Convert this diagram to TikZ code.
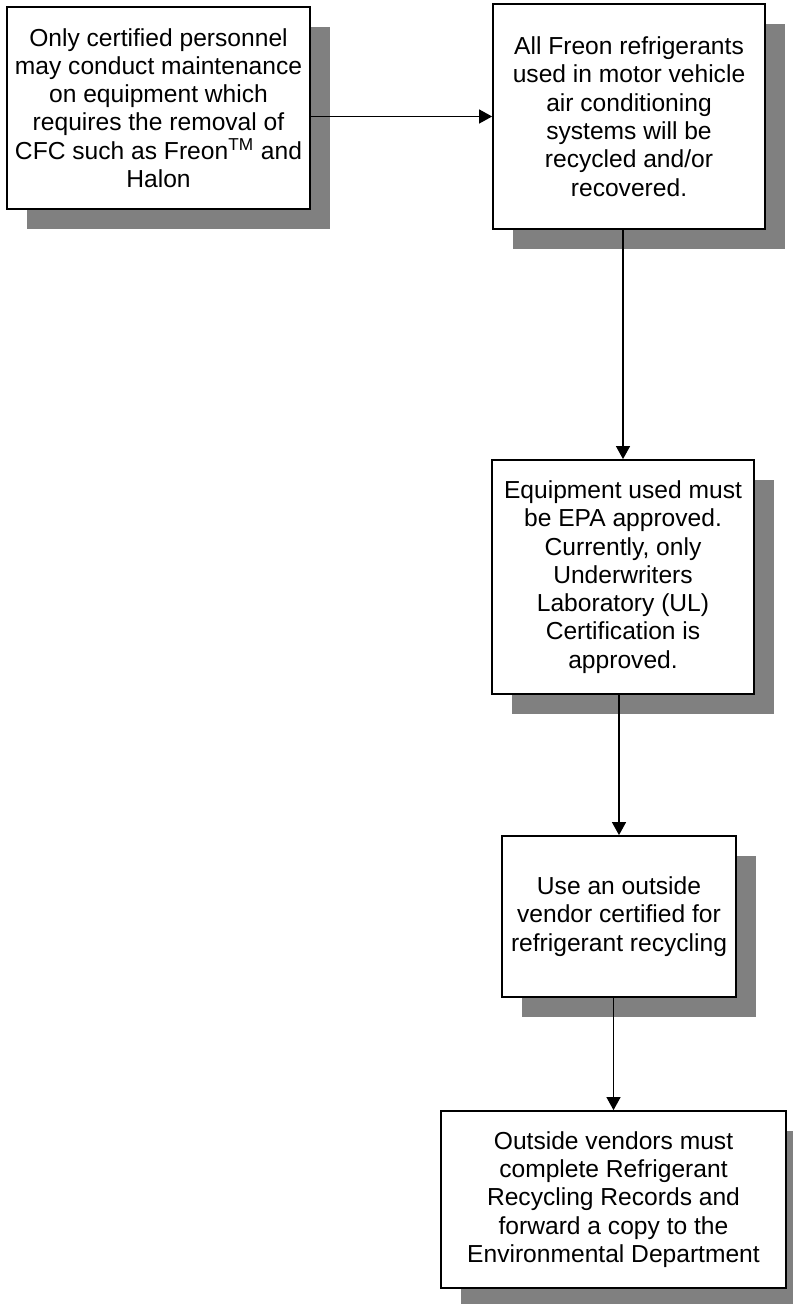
\documentclass[tikz,border=0pt]{standalone}
\usepackage{fontspec}
\setmainfont{Liberation Sans}
\usetikzlibrary{arrows.meta,shadows}
\definecolor{shadowgray}{HTML}{808080}

\begin{document}
\begin{tikzpicture}[x=0.5pt,y=-0.5pt,
		stepbox/.style={draw,line width=0.9pt,fill=white,align=center,inner sep=0pt,
			font=\fontsize{12.3}{14.15}\selectfont,
			general shadow={fill=shadowgray,shadow xshift=10pt,shadow yshift=-10pt}},
		flow/.style={-{Triangle[length=6.5pt,width=7pt]},line width=0.6pt}]
	\useasboundingbox (0,0) rectangle (792,1304);
	\node[stepbox,minimum width=151.5pt,minimum height=101pt] (a) at (158.5,108)
		{Only certified personnel\\may conduct maintenance\\on equipment which\\requires the removal of\\CFC such as Freon\textsuperscript{TM} and\\Halon};
	\node[stepbox,minimum width=136pt,minimum height=112.5pt] (b) at (629,116.5)
		{All Freon refrigerants\\used in motor vehicle\\air conditioning\\systems will be\\recycled and/or\\recovered.};
	\node[stepbox,minimum width=131pt,minimum height=117pt] (c) at (623,577)
		{Equipment used must\\be EPA approved.\\Currently, only\\Underwriters\\Laboratory (UL)\\Certification is\\approved.};
	\node[stepbox,minimum width=117pt,minimum height=80.5pt] (d) at (619,916.5)
		{Use an outside\\vendor certified for\\refrigerant recycling};
	\node[stepbox,minimum width=172.5pt,minimum height=88.5pt] (e) at (613.5,1199.5)
		{Outside vendors must\\complete Refrigerant\\Recycling Records and\\forward a copy to the\\Environmental Department};
	\draw[flow] (a.east |- b.west) -- (b.west);
	\foreach \from/\to in {b/c, c/d, d/e} {
		\draw[flow] (\from.south -| \to.north) -- (\to.north);
	}
\end{tikzpicture}
\end{document}
